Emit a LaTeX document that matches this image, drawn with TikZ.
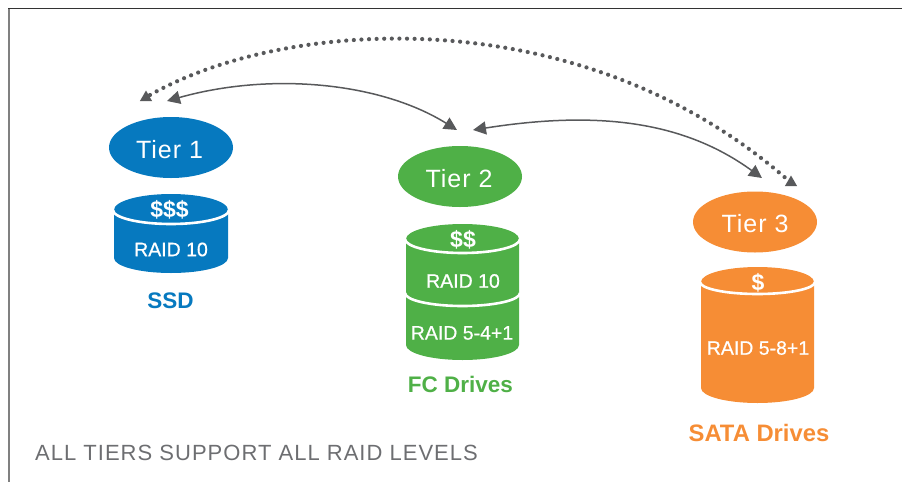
\documentclass[tikz,border=0pt]{standalone}
\usepackage{fontspec}
\setmainfont{Liberation Sans}
\newfontfamily\medfont[FakeBold=0.6]{Liberation Sans}
\usetikzlibrary{arrows.meta,shapes.geometric}
\definecolor{tierblue}{HTML}{0679BF}
\definecolor{tiergreen}{HTML}{4FB047}
\definecolor{tierorange}{HTML}{F68D35}
\definecolor{arrowgray}{HTML}{58595B}
\definecolor{notegray}{HTML}{6D6E71}
\tikzset{
  x=1pt,y=-1pt,
  tier/.style={ellipse,inner sep=0pt,minimum width=124pt,minimum height=61pt,text=white},
  tiertext/.style={text=white,inner sep=0pt,font=\fontsize{25}{25}\selectfont\addfontfeature{LetterSpace=4}},
  disklabel/.style={text=white,inner sep=0pt,font=\medfont\fontsize{19.5}{19.5}\selectfont},
  price/.style={text=white,inner sep=0pt,font=\bfseries\fontsize{23}{23}\selectfont},
  drive/.style={inner sep=0pt,font=\bfseries\fontsize{22.5}{22.5}\selectfont},
  link/.style={draw=arrowgray,line width=1.5pt,{Triangle[length=13pt,width=13pt,fill=arrowgray]}-{Triangle[length=13pt,width=13pt,fill=arrowgray]}},
  dotlink/.style={draw=arrowgray,line width=4.2pt,line cap=round,dash pattern=on 0pt off 7.6pt},
  tiphead/.style={fill=arrowgray,draw=none},
  band/.style={draw=white,line width=2.6pt}
}
\begin{document}
\begin{tikzpicture}
\useasboundingbox (0,0) rectangle (902,482);
% frame
\draw[color=black!50,line width=2pt] (9,8) -- (9,482);
\draw[color=black!80,line width=1.4pt] (8,8.5) -- (902,8.5);
% tiers
\node[tier,fill=tierblue] (t1) at (171,147.5) {};
\node[tiertext] (t1l) at (169.5,149.5) {Tier 1};
\node[tier,fill=tiergreen] (t2) at (460,176.5) {};
\node[tiertext] (t2l) at (459,178.5) {Tier 2};
\node[tier,fill=tierorange] (t3) at (755,222) {};
\node[tiertext] (t3l) at (755,224) {Tier 3};
% cylinder 1
\fill[tierblue] (114,210) -- (114,258) arc[start angle=180,end angle=360,x radius=57,y radius=-15] -- (228,210) arc[start angle=0,end angle=180,x radius=57,y radius=-16] -- cycle;
\draw[band] (113,210) arc[start angle=180,end angle=360,x radius=58,y radius=-14];
\node[price] (p1) at (169.5,210) {\$\$\$};
\node[disklabel] (r1) at (171,249.5) {RAID 10};
\node[drive,text=tierblue] (d1) at (170.5,300.5) {SSD};
% cylinder 2
\fill[tiergreen] (406,239) -- (406,345) arc[start angle=180,end angle=360,x radius=56.5,y radius=-15] -- (519,239) arc[start angle=0,end angle=180,x radius=56.5,y radius=-15] -- cycle;
\draw[band] (405,239) arc[start angle=180,end angle=360,x radius=57.5,y radius=-14];
\draw[band] (405,293) arc[start angle=180,end angle=360,x radius=57.5,y radius=-13];
\node[price] (p2) at (463,240) {\$\$};
\node[disklabel] (r2a) at (463,281) {RAID 10};
\node[disklabel] (r2b) at (462,333) {RAID 5-4+1};
\node[drive,text=tiergreen] (d2) at (460.5,384.5) {FC Drives};
% cylinder 3
\fill[tierorange] (701,282) -- (701,388) arc[start angle=180,end angle=360,x radius=56.5,y radius=-15] -- (814,282) arc[start angle=0,end angle=180,x radius=56.5,y radius=-15] -- cycle;
\draw[band] (700,282) arc[start angle=180,end angle=360,x radius=57.5,y radius=-12];
\node[price] (p3) at (758,283) {\$};
\node[disklabel] (r3) at (758,348) {RAID 5-8+1};
\node[drive,text=tierorange,font=\bfseries\fontsize{23.8}{23.8}\selectfont] (d3) at (759,433) {SATA Drives};
% note
\node[inner sep=0pt,anchor=west,text=notegray,font=\fontsize{22}{22}\selectfont\addfontfeature{LetterSpace=4.6}] (note) at (35,453) {ALL TIERS SUPPORT ALL RAID LEVELS};
% arrow ends
\coordinate (a1s) at (167,101);
\coordinate (a1e) at (457,130);
\coordinate (a2s) at (473,130);
\coordinate (a2e) at (762,178);
\coordinate (a3s) at (150,95);
\coordinate (a3e) at (789,181);
\draw[link] (a1s) .. controls (270,72) and (380,82) .. (a1e);
\draw[link] (a2s) .. controls (600,110) and (685,122) .. (a2e);
\draw[dotlink] (a3s) .. controls (285,18) and (580,-3) .. (a3e);
\node[tiphead,regular polygon,regular polygon sides=3,minimum size=14pt,inner sep=0pt] (h1) at (146,97.5) {};
\node[tiphead,regular polygon,regular polygon sides=3,minimum size=14pt,inner sep=0pt] (h2) at (791,182.5) {};
\end{tikzpicture}
\end{document}
